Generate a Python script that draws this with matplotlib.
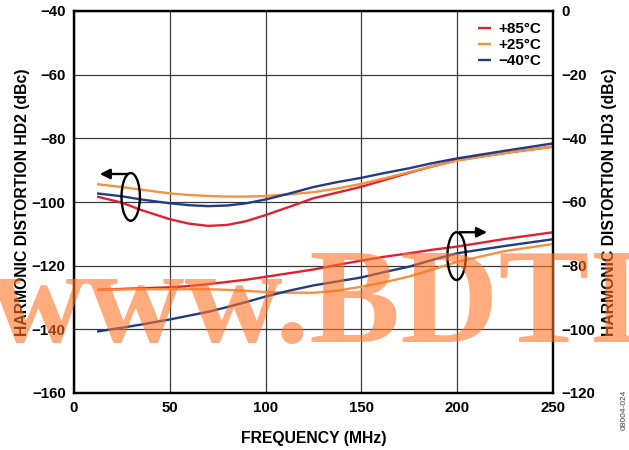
import matplotlib
matplotlib.use("Agg")
import matplotlib.pyplot as plt
from matplotlib.patches import Ellipse

freq = [12, 25, 35, 50, 60, 70, 80, 90, 100, 112, 125, 137, 150, 162, 175, 187, 200, 225, 250]

hd2_p85 = [-98.3, -100.2, -102.5, -105.4, -106.8, -107.5, -107.2, -106.0, -104.1, -101.6, -98.8, -97.1, -95.2, -93.1, -90.8, -88.8, -86.8, -84.6, -82.6]
hd2_p25 = [-94.4, -95.3, -96.1, -97.3, -97.8, -98.1, -98.3, -98.3, -98.1, -97.6, -96.9, -95.8, -94.3, -92.6, -90.6, -88.8, -87.0, -84.6, -82.6]
hd2_m40 = [-97.3, -98.2, -99.2, -100.4, -101.0, -101.3, -101.1, -100.4, -99.2, -97.4, -95.3, -93.8, -92.4, -90.9, -89.4, -87.8, -86.3, -83.9, -81.6]

hd3_p85 = [-87.6, -87.3, -87.1, -86.8, -86.4, -85.8, -85.1, -84.4, -83.5, -82.4, -81.2, -79.8, -78.4, -77.2, -76.1, -75.0, -74.0, -71.6, -69.5]
hd3_p25 = [-87.6, -87.5, -87.4, -87.4, -87.4, -87.4, -87.6, -87.9, -88.3, -88.5, -88.5, -87.9, -86.6, -85.2, -83.4, -81.2, -78.8, -75.4, -73.2]
hd3_m40 = [-100.7, -99.5, -98.5, -96.9, -95.7, -94.5, -93.0, -91.4, -89.7, -87.9, -86.2, -85.0, -83.7, -82.0, -80.3, -78.2, -76.1, -73.8, -71.7]

labels = ["+85°C", "+25°C", "\u221240°C"]
colors = ["#E2202F", "#F7913F", "#223B86"]

xticks = [0, 50, 100, 150, 200, 250]
left_ticks = [-160, -140, -120, -100, -80, -60, -40]
right_ticks = [-120, -100, -80, -60, -40, -20, 0]

plt.rcParams['font.family'] = ['Liberation Sans', 'DejaVu Sans']
plt.rcParams['axes.unicode_minus'] = True

W, H = 629, 450
fig = plt.figure(figsize=(W/100, H/100), dpi=100)
ax = fig.add_axes([74/W, 57/H, 479/W, 382/H])
ax2 = ax.twinx()

lw = 1.7
for y, c, lab in zip([hd2_p85, hd2_p25, hd2_m40], colors, labels):
    ax.plot(freq, y, color=c, lw=lw, label=lab, solid_capstyle='butt', solid_joinstyle='round')
for y, c in zip([hd3_p85, hd3_p25, hd3_m40], colors):
    ax2.plot(freq, y, color=c, lw=lw, solid_capstyle='butt', solid_joinstyle='round')

ax.set_xlim(0, 250)
ax.set_ylim(-160, -40)
ax2.set_ylim(-120, 0)
ax.set_xticks(xticks)
ax.set_yticks(left_ticks)
ax2.set_yticks(right_ticks)
ax.grid(True, color='#3a3a3a', lw=0.9)
ax.set_axisbelow(True)

for a in (ax, ax2):
    a.tick_params(length=0, labelsize=10.8, pad=6)
    for lbl in a.get_xticklabels() + a.get_yticklabels():
        lbl.set_fontweight('bold')
    for s in a.spines.values():
        s.set_linewidth(1.6)
        s.set_color('black')

ax.set_xlabel("FREQUENCY (MHz)", fontsize=11.3, fontweight='bold', labelpad=11)
ax.set_ylabel("HARMONIC DISTORTION HD2 (dBc)", fontsize=11.3, fontweight='bold', labelpad=1)
ax2.set_ylabel("HARMONIC DISTORTION HD3 (dBc)", fontsize=11.3, fontweight='bold', labelpad=5)

leg = ax.legend(loc='upper right', frameon=False, handlelength=0.85,
                handletextpad=0.5, labelspacing=0.12, borderaxespad=0.35,
                prop={'weight': 'bold', 'size': 11})

# annotations: ellipses and arrows
ax.add_patch(Ellipse((29.6, -98.4), 9.6, 15.0, fill=False, ec='black', lw=1.7, zorder=5))
ax.annotate("", xy=(12, -91.2), xytext=(29.6, -91.2),
            arrowprops=dict(arrowstyle='-|>', color='black', lw=1.7, mutation_scale=15), zorder=5)
ax2.add_patch(Ellipse((199.7, -77.0), 9.6, 15.0, fill=False, ec='black', lw=1.7, zorder=5))
ax2.annotate("", xy=(217, -69.5), xytext=(199.7, -69.5),
             arrowprops=dict(arrowstyle='-|>', color='black', lw=1.7, mutation_scale=15), zorder=5)

fig.text(624/W, 1 - 410/H, "08004-024", rotation=90, fontsize=6, color='#444444',
         ha='center', va='center')

# watermark: place so that the "B" starts near x=310 px
wm_font = dict(fontsize=98, fontweight='bold', family=['Liberation Serif', 'DejaVu Serif'])
renderer = fig.canvas.get_renderer()
probe = fig.text(0, 0, "www.", **wm_font)
pw = probe.get_window_extent(renderer).width
probe.remove()
fig.text((310 - pw)/W, 1 - 342/H, "www.BDTI", color=(1.0, 0.45, 0.15), alpha=0.6,
         ha='left', va='baseline', zorder=10, **wm_font)

fig.savefig("out.png", dpi=100)
